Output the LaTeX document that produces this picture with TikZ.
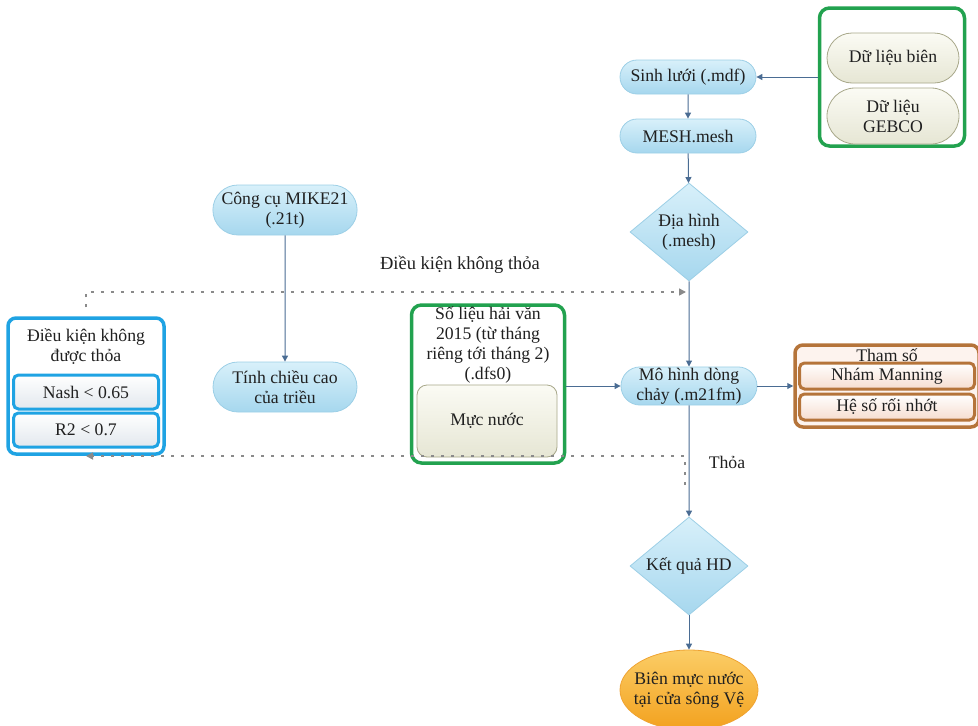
\documentclass[tikz,border=0pt]{standalone}
\usepackage{fontspec}
\setmainfont{Liberation Serif}
\usetikzlibrary{shapes.geometric,shapes.misc,arrows.meta}
\definecolor{ink}{HTML}{202020}
\definecolor{pilltop}{HTML}{D8F0FA}
\definecolor{pillbot}{HTML}{A6D7EE}
\definecolor{pillline}{HTML}{9CCFE6}
\definecolor{beigetop}{HTML}{FBFBF4}
\definecolor{beigebot}{HTML}{E6E6D4}
\definecolor{beigeline}{HTML}{A8A88A}
\definecolor{greenline}{HTML}{22A24F}
\definecolor{blueline}{HTML}{1FA3E3}
\definecolor{condbot}{HTML}{E2E8EE}
\definecolor{copper}{HTML}{B5743A}
\definecolor{tamfill}{HTML}{FDF3EE}
\definecolor{tambot}{HTML}{F6DDCF}
\definecolor{orangetop}{HTML}{FBCD66}
\definecolor{orangebot}{HTML}{F3A11E}
\definecolor{orangeline}{HTML}{EFA332}
\definecolor{arrowcol}{HTML}{4A6C93}
\definecolor{dotcol}{HTML}{8A8A8A}
\begin{document}
\begin{tikzpicture}[x=1pt,y=-1pt,
    font=\fontsize{17.7}{20}\selectfont,
    pill/.style={rounded rectangle, draw=pillline, line width=0.8pt,
      top color=pilltop, bottom color=pillbot, text=ink, align=center,
      inner sep=1pt, minimum width=138pt, minimum height=34pt},
    dia/.style={diamond, draw=pillline, line width=0.8pt, aspect=1.2,
      top color=pilltop, bottom color=pillbot, text=ink, align=center,
      inner sep=-5pt, minimum width=118pt, minimum height=98pt},
    beige/.style={rounded rectangle, draw=beigeline, line width=0.8pt,
      top color=beigetop, bottom color=beigebot, text=ink, align=center,
      inner sep=1pt, minimum width=134pt},
    greenbox/.style={draw=greenline, line width=3.5pt, fill=white,
      rounded corners=10pt, inner sep=0pt},
    condbox/.style={draw=blueline, line width=3pt, rounded corners=5pt,
      top color=white, bottom color=condbot, text=ink,
      minimum width=145pt, minimum height=34pt, inner sep=0pt},
    tambox/.style={draw=copper, line width=3pt, rounded corners=5pt,
      top color=white, bottom color=tambot, text=ink,
      minimum width=175pt, minimum height=26pt, inner sep=0pt},
    arr/.style={draw=arrowcol, line width=1pt,
      -{Triangle[width=6pt,length=6pt]}},
    loop/.style={draw=dotcol, line width=1.6pt, dash pattern=on 3pt off 7pt,
      -{Triangle[width=7pt,length=7pt]}}]
  \useasboundingbox (0,0) rectangle (978,726);

  % main chain
  \node[pill] (sinh) at (688,77) {Sinh lưới (.mdf)};
  \node[pill] (mesh) at (688,136) {MESH.mesh};
  \node[dia] (terrain) at (689,232) {Địa hình\\(.mesh)};
  \node[pill, minimum height=38pt] (model) at (689,386) {Mô hình dòng\\chảy (.m21fm)};
  \node[dia] (result) at (689,566) {Kết quả HD};
  \node[ellipse, draw=orangeline, line width=0.8pt, top color=orangetop,
    bottom color=orangebot, text=ink, align=center, inner sep=-8pt,
    minimum width=138pt, minimum height=80pt] (mouth) at (689,690)
    {Biên mực nước\\tại cửa sông Vệ};

  % input data, top right
  \node[greenbox, minimum width=145pt, minimum height=138pt] (inputBox) at (892,77) {};
  \node[beige, minimum height=50pt] (bound) at (893,58) {Dữ liệu biên};
  \node[beige, minimum height=56pt] (gebco) at (893,116) {Dữ liệu\\GEBCO};

  % tide tool
  \node[pill, minimum width=139pt, minimum height=50pt] (mike) at (285,210) {Công cụ MIKE21\\(.21t)};
  \node[pill, minimum width=146pt, minimum height=50pt] (tide) at (285,387) {Tính chiều cao\\của triều};

  % hydrological data
  \node[greenbox, minimum width=153pt, minimum height=158pt] (dataBox) at (488,384) {};
  \node[text=ink, align=center, inner sep=0pt] (dataTitle) at (488,345)
    {Số liệu hải văn\\2015 (từ tháng\\riêng tới tháng 2)\\(.dfs0)};
  \node[rectangle, draw=beigeline, line width=0.8pt, rounded corners=10pt,
    top color=beigetop, bottom color=beigebot, text=ink,
    minimum width=140pt, minimum height=72pt] (level) at (487,421) {Mực nước};

  % failed conditions
  \node[draw=blueline, line width=3.5pt, rounded corners=8pt, fill=white,
    minimum width=156pt, minimum height=136pt] (condBox) at (86,386) {};
  \node[text=ink, align=center, inner sep=0pt] (condTitle) at (86,347)
    {Điều kiện không\\được thỏa};
  \node[condbox] (nash) at (86,392) {Nash < 0.65};
  \node[condbox] (rtwo) at (86,430) {R2 < 0.7};

  % parameters
  \node[draw=copper, line width=3.5pt, rounded corners=8pt, fill=tamfill,
    minimum width=184pt, minimum height=82pt] (paramBox) at (887,386) {};
  \node[text=ink, inner sep=0pt] (paramTitle) at (887,355) {Tham số};
  \node[tambox] (manning) at (887,376) {Nhám Manning};
  \node[tambox] (visc) at (887,407) {Hệ số rối nhớt};

  % connectors
  \draw[arr] (inputBox.west) -- (sinh.east);
  \draw[arr] (sinh) -- (mesh);
  \draw[arr] (mesh) -- (terrain);
  \draw[arr] (terrain) -- (model);
  \draw[arr] (model) -- (result);
  \draw[arr] (result) -- (mouth);
  \draw[arr] (mike) -- (tide);
  \draw[arr] (dataBox.east |- model.west) -- (model.west);
  \draw[arr] (model.east) -- (paramBox.west |- model.east);

  % feedback loops
  \coordinate (loopIn) at (686,292);
  \coordinate (loopOut) at (685,485);
  \coordinate (loopEnd) at (86,456);
  \draw[loop] ([yshift=9pt]condBox.north) |- (loopIn);
  \draw[loop] (loopOut) |- (loopEnd);
  \node[text=ink, font=\fontsize{18.5}{20}\selectfont] (failLabel) at (460,265) {Điều kiện không thỏa};
  \node[text=ink] (okLabel) at (727,462) {Thỏa};
\end{tikzpicture}
\end{document}
